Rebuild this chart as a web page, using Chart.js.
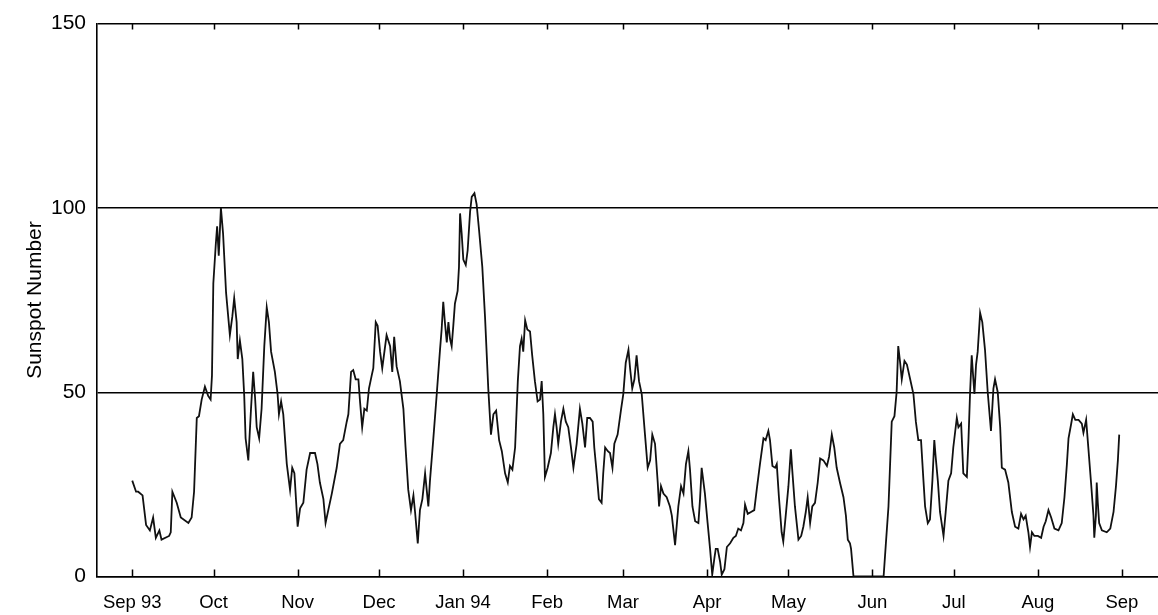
<!DOCTYPE html>
<html>
<head>
<meta charset="utf-8">
<script src="https://cdn.jsdelivr.net/npm/chart.js@4.4.1/dist/chart.umd.min.js"></script>
<style>
  html, body { margin: 0; padding: 0; background: #fff; }
  #wrap { width: 1158px; height: 615px; position: relative; }
</style>
</head>
<body>
<div id="wrap"><canvas id="sunChart"></canvas></div>
<script>
// Days counted from 1 Sep 1993, daily sunspot number
const days = [
  0, 1.4, 2.2, 3.8, 5.1, 6.5, 7.7, 8.7, 10.0, 10.8, 13.6, 14.2, 14.8, 16.4, 17.9, 20.7, 21.9, 22.8, 23.8, 24.6,
  25.6, 26.8, 28.0, 28.9, 29.4, 29.9, 30.8, 31.3, 31.9, 32.7, 33.5, 34.6, 36.0, 36.9, 37.6, 38.5, 38.9, 39.7, 40.6, 41.3,
  41.8, 42.8, 43.8, 44.6, 45.3, 45.9, 46.8, 47.7, 48.7, 49.6, 50.4, 51.2, 52.6, 53.6, 54.1, 54.9, 55.7, 57.0, 58.2, 59.0,
  59.8, 61.0, 61.9, 63.1, 64.3, 65.6, 67.4, 68.3, 69.2, 70.5, 71.3, 72.3, 73.6, 75.4, 76.6, 77.8, 79.1, 79.7, 80.7, 81.5,
  82.4, 83.4, 84.0, 84.8, 85.6, 86.5, 87.3, 88.3, 88.9, 89.8, 90.5, 91.4, 92.2, 93.8, 95.1, 95.9, 96.6, 97.5, 98.7, 100.0,
  100.8, 101.8, 102.8, 103.7, 104.3, 105.3, 106.1, 107.0, 108.0, 108.6, 109.2, 109.8, 111.0, 112.3, 113.5, 114.1, 114.7, 115.3, 116.0, 116.6,
  117.2, 117.8, 118.4, 119.0, 120.0, 120.5, 120.9, 121.5, 122.1, 123.0, 123.7, 124.6, 125.2, 126.2, 127.0, 127.9, 129.1, 130.1, 131.3, 132.3,
  133.2, 134.2, 135.3, 136.3, 137.5, 138.5, 139.3, 140.2, 141.2, 142.2, 143.0, 143.6, 144.2, 144.9, 145.7, 146.7, 147.5, 148.5, 149.5, 150.4,
  151.0, 151.6, 152.2, 153.2, 154.4, 155.3, 155.9, 156.5, 157.1, 158.1, 159.0, 159.9, 160.8, 161.8, 162.7, 163.9, 165.1, 166.0, 167.0, 167.8,
  168.8, 169.8, 170.4, 171.3, 172.1, 173.1, 173.7, 174.4, 175.4, 176.2, 177.1, 177.8, 179.0, 180.3, 181.1, 182.0, 183.0, 183.6, 184.4, 185.2,
  186.0, 186.9, 187.9, 189.1, 190.1, 191.0, 191.8, 192.8, 193.8, 194.3, 195.0, 195.9, 197.1, 198.3, 199.0, 200.2, 201.4, 202.4, 203.3, 204.2,
  205.1, 205.7, 206.6, 207.6, 208.8, 209.4, 210.0, 210.6, 211.2, 212.2, 213.1, 213.9, 214.7, 215.2, 215.9, 216.8, 217.4, 218.4, 219.3, 220.5,
  221.7, 222.6, 223.5, 224.5, 225.4, 226.0, 227.0, 228.2, 229.4, 230.3, 231.5, 232.8, 233.6, 234.6, 235.2, 236.1, 237.1, 237.7, 238.5, 239.5,
  240.1, 241.0, 242.0, 242.9, 243.4, 244.4, 245.7, 246.7, 247.5, 248.4, 249.1, 250.0, 250.8, 251.8, 252.8, 253.7, 254.9, 256.2, 257.0, 258.0,
  258.9, 259.8, 261.0, 262.3, 263.2, 263.9, 264.7, 265.1, 266.0, 272.0, 277.1, 277.9, 278.9, 279.5, 280.1, 281.1, 281.9, 282.5, 283.2, 283.8,
  284.8, 285.7, 286.9, 288.1, 289.0, 289.9, 290.9, 291.8, 292.4, 293.4, 294.2, 295.1, 295.8, 296.3, 297.1, 297.9, 299.2, 300.0, 301.0, 302.0,
  302.8, 304.1, 304.7, 305.7, 306.5, 307.8, 308.4, 309.0, 309.6, 310.2, 310.6, 311.2, 311.8, 312.7, 313.5, 314.5, 315.5, 316.7, 317.6, 318.2,
  319.2, 320.1, 320.7, 321.9, 323.1, 324.4, 325.6, 326.8, 327.8, 328.7, 329.5, 330.5, 331.1, 331.8, 332.7, 334.0, 335.2, 336.1, 336.9, 337.9,
  338.9, 340.1, 341.6, 342.8, 343.8, 344.7, 345.3, 346.3, 346.9, 347.8, 349.0, 350.2, 350.8, 351.8, 352.6, 353.6, 354.5, 354.8, 355.4, 355.7,
  356.1, 356.6, 357.6, 359.4, 360.7, 361.9, 362.8, 363.5, 364.0
];

const sunspots = [
  26, 23, 23, 22, 14, 12.5, 16, 10.5, 12.5, 10, 11, 12, 23, 20, 16, 14.5, 16, 23, 43, 43.5,
  48, 51.5, 49, 48, 54.5, 79.5, 90, 95, 87, 100, 93, 77, 65.5, 70.5, 75.5, 69, 59, 64, 59, 49,
  37.5, 31.5, 45.5, 55.5, 48.5, 40.5, 37.5, 45.5, 62.5, 73, 69, 61, 55.5, 49.5, 44, 47.5, 44, 30.5, 23.5, 29.5,
  28, 13.5, 18.5, 20, 29, 33.5, 33.5, 30.5, 25.5, 21, 14.5, 18, 22.5, 29.5, 36, 37, 42, 44, 55.5, 56,
  53.5, 53.5, 47.5, 40.5, 45.5, 45, 51, 54.5, 56.5, 69, 68, 61, 56.5, 65.5, 62.5, 55.5, 65, 57, 53, 45.5,
  35, 23.5, 18, 22, 17.5, 9, 18, 21, 28, 23.5, 19, 26, 37, 49.5, 61.5, 67, 74.5, 69, 63.5, 69,
  64.5, 62.5, 68, 74, 77.5, 84, 98.5, 93, 86, 84.5, 88.5, 99, 103, 104, 101, 94, 84, 70.5, 51, 38.5,
  44, 45, 37, 34, 28, 25.5, 30, 29, 35, 53, 62.5, 64.5, 61, 69.5, 67, 66.5, 60, 53, 47.5, 48,
  53, 44, 27, 29.5, 33.5, 40.5, 44, 40.5, 36, 42, 45.5, 42, 40.5, 35, 29.5, 36, 45.5, 41.5, 35, 43,
  43, 42, 35, 28, 21, 20, 28, 35, 34, 33.5, 29.5, 36, 38.5, 45.5, 49.5, 58, 61.5, 56.5, 51, 53.5,
  60, 53, 49.5, 38.5, 29.5, 31.5, 38.5, 36, 25.5, 19, 24.5, 22.5, 21.5, 19, 16.5, 8.5, 19, 24.5, 22.5, 30.5,
  34, 29, 19, 15, 14.5, 21, 29.5, 26, 22.5, 14.5, 7.5, 0.5, 5, 7.5, 7.5, 4, 0.5, 2, 8, 9,
  10.5, 11, 13, 12.5, 14.5, 19.5, 17, 17.5, 18, 23.5, 30.5, 37.5, 37, 39.5, 37, 30, 29.5, 30.5, 21.5, 12,
  9.5, 16.5, 24.5, 34.5, 29, 19, 10, 11, 13.5, 17.5, 21.5, 14.5, 19, 20, 25.5, 32, 31.5, 30, 32.5, 38.5,
  35, 29.5, 25.5, 21.5, 16.5, 10, 9, 7.5, 0, 0, 0, 8.5, 19, 30.5, 42, 43.5, 50, 62.5, 58, 53.5,
  58.5, 57.5, 53.5, 49.5, 42, 37, 37, 26, 19, 14.5, 15.5, 26, 37, 32.5, 26, 17.5, 11, 17.5, 26, 28,
  35, 43, 40.5, 41.5, 28, 27, 37, 50, 60, 53.5, 49.5, 57.5, 61, 71.5, 69, 61.5, 50, 39.5, 51, 53.5,
  50, 40.5, 29.5, 29, 25.5, 17.5, 13.5, 13, 17, 15.5, 16.5, 12, 8, 12, 11, 11, 10.5, 13.5, 15, 18,
  16, 13, 12.5, 14.5, 21.5, 30.5, 37.5, 41.5, 44, 42.5, 42.5, 41.5, 39, 42.5, 35, 25.5, 16.5, 10.5, 16.5, 25.5,
  20, 14.5, 12.5, 12, 13, 17.5, 24.5, 31.5, 38.5
];

// month starts (days from 1 Sep 1993) and their labels
const monthDays = [0, 30, 61, 91, 122, 153, 181, 212, 242, 273, 303, 334, 365];
const monthLabels = ['Sep 93', 'Oct', 'Nov', 'Dec', 'Jan 94', 'Feb', 'Mar', 'Apr', 'May', 'Jun', 'Jul', 'Aug', 'Sep'];
const yTicks = [0, 50, 100, 150];

const FONT = "'Liberation Sans', Arial, sans-serif";

// small inward tick marks at the month positions, top and bottom
const innerTicks = {
  id: 'innerTicks',
  afterDraw(chart) {
    const { ctx, chartArea, scales: { x } } = chart;
    ctx.save();
    ctx.strokeStyle = '#000';
    ctx.lineWidth = 1.5;
    x.ticks.forEach(t => {
      const px = Math.round(x.getPixelForValue(t.value)) + 0.5;
      ctx.beginPath();
      ctx.moveTo(px, chartArea.bottom);
      ctx.lineTo(px, chartArea.bottom - 7);
      ctx.moveTo(px, chartArea.top);
      ctx.lineTo(px, chartArea.top + 6);
      ctx.stroke();
    });
    ctx.restore();
  }
};

function initChart() {
  const points = days.map((d, i) => ({ x: d, y: sunspots[i] }));

  new Chart(document.getElementById('sunChart'), {
    type: 'line',
    data: {
      datasets: [{
        label: 'Sunspot Number',
        data: points,
        borderColor: '#111',
        borderWidth: 1.8,
        pointRadius: 0,
        tension: 0,
        fill: false
      }]
    },
    options: {
      responsive: true,
      maintainAspectRatio: false,
      animation: false,
      events: [],
      layout: { padding: { top: 16.5, right: 0, left: 0, bottom: 0 } },
      plugins: {
        legend: { display: false },
        tooltip: { enabled: false }
      },
      scales: {
        x: {
          type: 'linear',
          min: -13,
          max: 378.3,
          afterBuildTicks: scale => {
            scale.ticks = monthDays.map(v => ({ value: v }));
          },
          afterFit: scale => { scale.height = 38.5; },
          grid: { display: false },
          border: { display: true, color: '#000', width: 1.6 },
          ticks: {
            autoSkip: false,
            maxRotation: 0,
            padding: 7,
            color: '#000',
            font: { family: FONT, size: 18.5 },
            callback: (v, i) => monthLabels[i]
          }
        },
        y: {
          min: 0,
          max: 150,
          afterBuildTicks: scale => {
            scale.ticks = yTicks.map(v => ({ value: v }));
          },
          afterFit: scale => { scale.width = 97; },
          grid: { color: '#000', lineWidth: 1.4, drawTicks: false },
          border: { display: true, color: '#000', width: 1.6 },
          ticks: {
            padding: 11,
            color: '#000',
            font: { family: FONT, size: 21 }
          },
          title: {
            display: true,
            text: 'Sunspot Number',
            color: '#000',
            font: { family: FONT, size: 21 },
            padding: { top: 23, bottom: 0 }
          }
        }
      }
    },
    plugins: [innerTicks]
  });
}

window.onload = initChart;
</script>
</body>
</html>
